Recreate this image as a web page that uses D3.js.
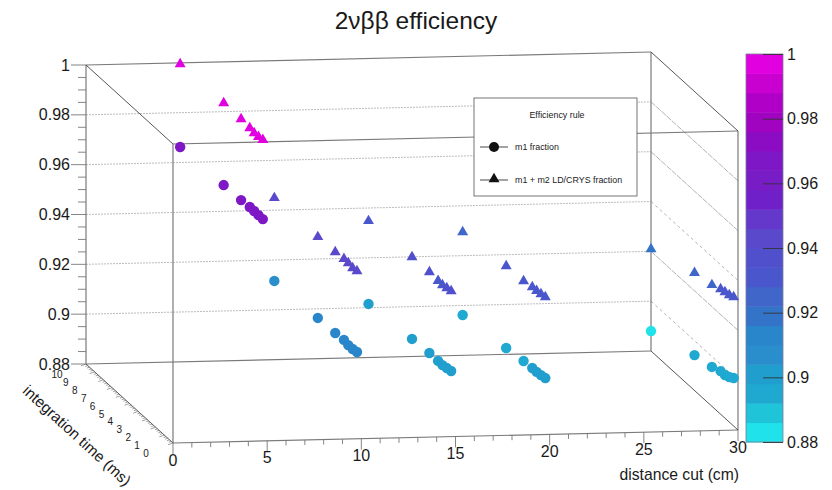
<!DOCTYPE html>
<html>
<head>
<meta charset="utf-8">
<script src="https://cdn.jsdelivr.net/npm/d3@7/dist/d3.min.js"></script>
<style>
html,body{margin:0;padding:0;background:#fff;}
svg{display:block;}
text{font-family:"Liberation Sans",Arial,sans-serif;fill:#1a1a1a;}
</style>
</head>
<body>
<svg id="c" width="832" height="490"></svg>
<script>
const distances = [5, 10, 15, 20, 30];
const times = [10, 5, 3, 2, 1.5, 1, 0.5];
const m1Fraction = [
  [.9662, .9668, .9671, .9675, .9675, .9674, .9674],
  [.9116, .9126, .9129, .9133, .9128, .9128, .9132],
  [.9015, .9033, .9040, .9040, .9039, .9043, .9047],
  [.8962, .8988, .8999, .9003, .9003, .9006, .9010],
  [.8880, .8942, .8958, .8973, .8973, .8981, .8993]
];
const m1m2Fraction = [
  [.9995, .9997, .9996, .9992, .9988, .9988, .9992],
  [.9449, .9451, .9454, .9458, .9457, .9453, .9457],
  [.9348, .9362, .9365, .9361, .9360, .9364, .9368],
  [.9295, .9317, .9320, .9328, .9328, .9331, .9335],
  [.9209, .9272, .9287, .9302, .9306, .9310, .9318]
];
const palette = ["#20e2ea","#1fc4d8","#1fa9d1","#209fce","#2a8ecc","#2a86cb","#3474c8","#3f66c8","#4a57cc","#5150cc",
                 "#5a4acb","#6338cb","#7020c8","#781cc6","#7e18c6","#8c0cc4","#a004c0","#b000c8","#c800d0","#e000e0"];
const distanceTicks = [0,5,10,15,20,25,30];
const timeTicks = [0,1,2,3,4,5,6,7,8,9,10];
const effTicks = [0.88,0.9,0.92,0.94,0.96,0.98,1];
const legendEntries = ["m1 fraction","m1 + m2 LD/CRYS fraction"];

const svg = d3.select("#c");
// oblique projection built from linear scales
const dxS = d3.scaleLinear().domain([0,30]).range([173,738]);
const dyS = d3.scaleLinear().domain([0,30]).range([0,-13]);
const txS = d3.scaleLinear().domain([0,10]).range([0,-87]);
const tyS = d3.scaleLinear().domain([0,10]).range([0,-79]);
const zS  = d3.scaleLinear().domain([0.88,1]).range([443,144]);
const X = (d,t)=>dxS(d)+txS(t);
const Y = (d,t,z)=>zS(z)+dyS(d)+tyS(t);
const color = d3.scaleQuantize().domain([0.8822,1.0022]).range(palette);
const pt = (d,t,z)=>[X(d,t),Y(d,t,z)];
const seg = (a,b,stroke,w,dash)=>svg.append("line")
  .attr("x1",a[0]).attr("y1",a[1]).attr("x2",b[0]).attr("y2",b[1])
  .attr("stroke",stroke).attr("stroke-width",w).attr("stroke-dasharray",dash||null);

// grid on the back and right walls
const gridC="#bdbdbd";
effTicks.slice(1,-1).forEach((z,i)=>{
  seg(pt(0,10,z),pt(30,10,z),gridC,1,"2 1");
  seg(pt(30,10,z),pt(30,0,z),"#aaa",0.9,i===2||i===0?"3 3":"6 1");
});

// box
const edge="#7a7a7a";
[[[0,10,.88],[30,10,.88]],[[0,10,1],[30,10,1]],[[0,0,1],[30,0,1]],[[0,0,.88],[30,0,.88]],
 [[0,10,.88],[0,10,1]],[[30,10,.88],[30,10,1]],[[0,0,.88],[0,0,1]],[[30,0,.88],[30,0,1]]]
 .forEach(e=>seg(pt(...e[0]),pt(...e[1]),edge,1.2));
[[[0,10,1],[0,0,1]],[[30,10,1],[30,0,1]],[[0,10,.88],[0,0,.88]],[[30,10,.88],[30,0,.88]]]
 .forEach(e=>seg(pt(...e[0]),pt(...e[1]),"#444",0.9));

// efficiency axis
const fmt = v=>String(+v.toFixed(2));
d3.range(0,25).forEach(i=>{
  const z=0.88+i*0.005, p=pt(0,10,z), major=i%4===0;
  seg(p,[p[0]-(major?15:8),p[1]],"#777",0.9);
});
svg.append("g").selectAll("text").data(effTicks).join("text")
  .attr("x",X(0,10)-16).attr("y",z=>Y(0,10,z)+5.5)
  .attr("text-anchor","end").attr("font-size",16).text(fmt);

// distance axis
d3.range(0,31).forEach(d=>{
  const p=pt(d,0,.88), major=d%5===0;
  seg(p,[p[0],p[1]+(major?11:5)],"#777",0.9);
});
svg.append("g").selectAll("text").data(distanceTicks).join("text")
  .attr("x",d=>X(d,0)).attr("y",d=>Y(d,0,.88)+22.5)
  .attr("text-anchor","middle").attr("font-size",16).text(d=>d);

// time axis
d3.range(0,51).forEach(i=>{
  const t=i/5, p=pt(0,t,.88), major=i%5===0, l=major?5:2.5;
  seg(p,[p[0]-l,p[1]+l*0.35],"#777",0.7);
});
svg.append("g").selectAll("text").data(timeTicks).join("text")
  .attr("x",t=>X(0,t)-27-t*0.2).attr("y",t=>Y(0,t,.88)+14)
  .attr("text-anchor","middle").attr("font-size",10).text(t=>t);

// titles
svg.append("text").attr("x",416).attr("y",29).attr("text-anchor","middle").attr("font-size",24.5).text("2νββ efficiency");
svg.append("text").attr("x",739).attr("y",480).attr("text-anchor","end").attr("font-size",15.7).text("distance cut (cm)");
svg.append("text").attr("transform","translate(77,435.5) rotate(42.5)").attr("text-anchor","middle")
  .attr("dy","0.35em").attr("font-size",15.4).text("integration time (ms)");

// colour bar
const barX=746, barW=37;
const barS=d3.scaleLinear().domain([0.88,1]).range([442,54]);
const step=0.12/palette.length;
svg.append("g").selectAll("rect").data(palette).join("rect")
  .attr("x",barX).attr("width",barW)
  .attr("y",(c,i)=>barS(0.88+(i+1)*step))
  .attr("height",(c,i)=>barS(0.88+i*step)-barS(0.88+(i+1)*step)+0.5)
  .attr("fill",c=>c);
svg.append("rect").attr("x",barX).attr("y",54).attr("width",barW).attr("height",388)
  .attr("fill","none").attr("stroke","#7a7a9a").attr("stroke-width",0.8);
const barAxis=d3.axisRight(barS).tickValues(effTicks).tickFormat(fmt).tickSize(-20).tickSizeOuter(0);
const barG=svg.append("g").attr("transform",`translate(${barX+barW},0)`).call(barAxis);
barG.select(".domain").remove();
barG.selectAll("line").attr("stroke","#333").attr("stroke-width",0.9);
barG.selectAll("text").attr("font-size",16).attr("x",4).style("font-family",'"Liberation Sans",Arial,sans-serif').style("fill","#1a1a1a");

// legend
const lx=474, ly=98, lw=163, lh=98;
svg.append("rect").attr("x",lx).attr("y",ly).attr("width",lw).attr("height",lh)
  .attr("fill","#fff").attr("stroke","#666").attr("stroke-width",0.9);
svg.append("text").attr("x",lx+83).attr("y",ly+19.5).attr("text-anchor","middle").attr("font-size",8.9).text("Efficiency rule");
const triangle=d3.symbol().type(d3.symbolTriangle);
[147,180].forEach((y,i)=>{
  seg([480,y],[508,y],"#333",0.9);
  if(i===0) svg.append("circle").attr("cx",494).attr("cy",y).attr("r",5).attr("fill","#111");
  else svg.append("path").attr("d",triangle.size(52)()).attr("transform",`translate(494,${y-1})`).attr("fill","#111");
  svg.append("text").attr("x",515).attr("y",y+3).attr("font-size",8.9).text(legendEntries[i]);
});

// markers
distances.forEach((d,i)=>{
  times.forEach((t,j)=>{
    svg.append("path").attr("d",triangle.size(52)())
      .attr("transform",`translate(${X(d,t)},${Y(d,t,m1m2Fraction[i][j])})`)
      .attr("fill",color(m1m2Fraction[i][j]));
  });
});
distances.forEach((d,i)=>{
  times.forEach((t,j)=>{
    svg.append("circle").attr("cx",X(d,t)).attr("cy",Y(d,t,m1Fraction[i][j])).attr("r",5.2)
      .attr("fill",color(m1Fraction[i][j]));
  });
});
</script>
</body>
</html>
